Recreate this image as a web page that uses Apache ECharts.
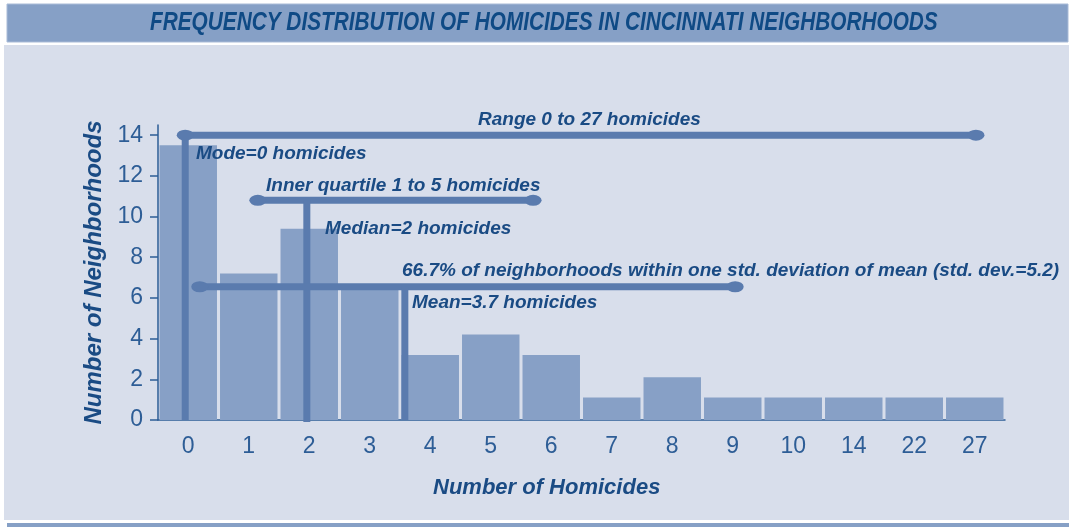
<!DOCTYPE html>
<html>
<head>
<meta charset="utf-8">
<title>Frequency distribution of homicides in Cincinnati neighborhoods</title>
<script src="https://cdn.jsdelivr.net/npm/echarts@6/dist/echarts.min.js"></script>
<style>
  html, body { margin: 0; padding: 0; background: #ffffff; }
  #chart { width: 1069px; height: 527px; }
</style>
</head>
<body>
<div id="chart"></div>
<script>
(function() {
  'use strict';

  // data
  var homicideCats = ['0', '1', '2', '3', '4', '5', '6', '7', '8', '9', '10', '14', '22', '27'];
  var neighborhoodCounts = [13.5, 7.2, 9.4, 6.5, 3.2, 4.2, 3.2, 1.1, 2.1, 1.1, 1.1, 1.1, 1.1, 1.1];
  var yTickValues = [0, 2, 4, 6, 8, 10, 12, 14];

  // annotation bars, in axis units (x: category index scale 0..14, y: count)
  var rangeBar = [[0.45, 14], [13.52, 14]];
  var modeBar = [[0.45, 14], [0.45, 0]];
  var quartileBar = [[1.65, 10.8], [6.2, 10.8]];
  var medianBar = [[2.46, 10.8], [2.46, -0.1]];
  var stdBar = [[0.69, 6.55], [9.54, 6.55]];
  var meanBar = [[4.08, 6.55], [4.08, 0]];

  var colorBar = '#87a0c6';
  var colorMark = '#5a7bae';
  var colorText = '#1a4b84';
  var colorAxis = '#2d5d96';
  var colorPanel = '#d8deeb';
  var sans = '"Liberation Sans", Arial, sans-serif';

  var ellipse = 'path://M0 50 A50 50 0 1 1 100 50 A50 50 0 1 1 0 50 Z';

  function hBar(name, data) {
    return {
      name: name,
      type: 'line',
      xAxisIndex: 1,
      data: data,
      symbol: ellipse,
      symbolSize: [17, 11],
      showSymbol: true,
      clip: false,
      silent: true,
      z: 5,
      lineStyle: { width: 7, color: colorMark, cap: 'butt' },
      itemStyle: { color: colorMark }
    };
  }

  function vBar(name, data) {
    return {
      name: name,
      type: 'line',
      xAxisIndex: 1,
      data: data,
      symbol: 'none',
      clip: false,
      silent: true,
      z: 5,
      lineStyle: { width: 7, color: colorMark, cap: 'butt' }
    };
  }

  function note(text, x, y) {
    return {
      type: 'text',
      left: x,
      top: y,
      z: 10,
      style: { text: text, fill: colorText, font: 'italic bold 19px ' + sans }
    };
  }

  var chart = echarts.init(document.getElementById('chart'), null, { renderer: 'canvas' });

  chart.setOption({
    animation: false,
    backgroundColor: '#ffffff',
    graphic: [
      { type: 'rect', shape: { x: 7, y: 4, width: 1061, height: 38 }, style: { fill: '#86a0c6', stroke: '#a9bbd7', lineWidth: 1 }, z: -10 },
      { type: 'rect', shape: { x: 4, y: 45, width: 1065, height: 475 }, style: { fill: colorPanel }, z: -10 },
      { type: 'rect', shape: { x: 7, y: 523, width: 1062, height: 4 }, style: { fill: '#86a0c6' }, z: -10 },
      {
        // condensed title: regular face squeezed horizontally
        type: 'text', x: 150, y: 10, scaleX: 0.8, z: 10,
        style: { text: 'FREQUENCY DISTRIBUTION OF HOMICIDES IN CINCINNATI NEIGHBORHOODS', fill: '#0f4a85', font: 'italic bold 26px ' + sans }
      },
      {
        type: 'text', left: 433, top: 477, z: 10,
        style: { text: 'Number of Homicides', fill: colorText, font: 'italic bold 22px ' + sans }
      },
      note('Range 0 to 27 homicides', 478, 110),
      note('Mode=0 homicides', 196, 144),
      note('Inner quartile 1 to 5 homicides', 266, 176),
      note('Median=2 homicides', 325, 219),
      note('66.7% of neighborhoods within one std. deviation of mean (std. dev.=5.2)', 402, 261),
      note('Mean=3.7 homicides', 412, 293)
    ],
    grid: { left: 158, right: 64, top: 125, bottom: 107, containLabel: false },
    xAxis: [
      {
        type: 'category',
        data: homicideCats,
        axisLine: { lineStyle: { color: colorAxis, width: 1.5 } },
        axisTick: { show: false },
        axisLabel: { color: colorAxis, fontSize: 23, fontFamily: sans, margin: 15 }
      },
      { type: 'value', min: 0, max: 14, show: false }
    ],
    yAxis: {
      type: 'value',
      min: 0,
      max: 14.5,
      name: 'Number of Neighborhoods',
      nameLocation: 'middle',
      nameGap: 52,
      nameTextStyle: { color: colorText, fontSize: 24, fontStyle: 'italic', fontWeight: 'bold', fontFamily: sans },
      axisLine: { show: true, lineStyle: { color: colorAxis, width: 1.5 } },
      axisTick: { show: true, length: 8, customValues: yTickValues, lineStyle: { color: colorAxis, width: 1.5 } },
      axisLabel: { color: colorAxis, fontSize: 23, fontFamily: sans, margin: 15, customValues: yTickValues },
      splitLine: { show: false }
    },
    series: [
      {
        name: 'Neighborhoods',
        type: 'bar',
        data: neighborhoodCounts,
        barCategoryGap: '5%',
        itemStyle: { color: colorBar },
        silent: true,
        z: 2
      },
      hBar('Range', rangeBar),
      vBar('Mode', modeBar),
      hBar('Inner quartile', quartileBar),
      vBar('Median', medianBar),
      hBar('Std. deviation', stdBar),
      vBar('Mean', meanBar)
    ]
  });

  window.addEventListener('resize', function() { chart.resize(); });
})();
</script>
</body>
</html>
